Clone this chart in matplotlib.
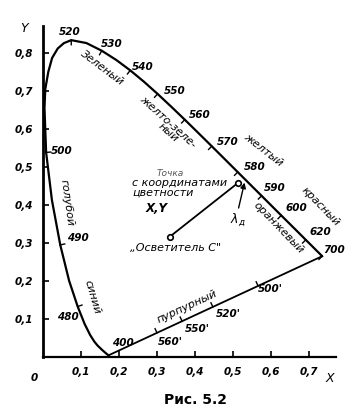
import matplotlib
matplotlib.use("Agg")
import matplotlib.pyplot as plt
import numpy as np

# spectral locus, wavelengths in nm (CIE 1931, a few points near the top)
wl = [400, 420, 430, 440, 450, 460, 465, 470, 475, 480, 485, 490, 495,
      500, 505, 507.5, 510, 512.5, 515, 517.5, 520, 525, 530, 535, 540, 545,
      550, 555, 560, 565, 570, 575, 580, 585, 590, 595, 600, 610, 620, 630,
      640, 650, 700]
lx = [0.1733, 0.1714, 0.1689, 0.1644, 0.1566, 0.1440, 0.1355, 0.1241, 0.1096,
      0.0913, 0.0687, 0.0454, 0.0235, 0.0082, 0.0039, 0.0060, 0.0139, 0.0240,
      0.0389, 0.0550, 0.0743, 0.1142, 0.1547, 0.1929, 0.2296, 0.2658, 0.3016,
      0.3373, 0.3731, 0.4087, 0.4441, 0.4788, 0.5125, 0.5448, 0.5752, 0.6029,
      0.6270, 0.6658, 0.6915, 0.7079, 0.7190, 0.7260, 0.7347]
ly = [0.0048, 0.0051, 0.0069, 0.0109, 0.0177, 0.0297, 0.0399, 0.0578, 0.0868,
      0.1327, 0.2007, 0.2950, 0.4127, 0.5384, 0.6548, 0.7050, 0.7502, 0.7870,
      0.8120, 0.8260, 0.8338, 0.8262, 0.8059, 0.7816, 0.7543, 0.7243, 0.6923,
      0.6589, 0.6245, 0.5896, 0.5547, 0.5202, 0.4866, 0.4544, 0.4242, 0.3965,
      0.3725, 0.3340, 0.3083, 0.2920, 0.2809, 0.2740, 0.2653]

tick_wl = [480, 490, 500, 520, 530, 540, 550, 560, 570, 580, 590, 600, 620, 700]
# label text and position for each marked wavelength
wl_labels = ["400", "480", "490", "500", "520", "530", "540", "550", "560",
             "570", "580", "590", "600", "620", "700"]
wl_lab_x = [0.21, 0.066, 0.092, 0.05, 0.071, 0.18, 0.263, 0.347, 0.413,
            0.487, 0.558, 0.61, 0.668, 0.729, 0.765]
wl_lab_y = [0.037, 0.105, 0.313, 0.542, 0.855, 0.824, 0.763, 0.70, 0.637,
            0.566, 0.50, 0.445, 0.392, 0.329, 0.282]

# line of purples, complementary wavelengths
purple_tick_x = [0.30, 0.366, 0.447, 0.566]
purple_labels = ["560'", "550'", "520'", "500'"]
purple_lab_x = [0.334, 0.405, 0.487, 0.597]
purple_lab_y = [0.040, 0.074, 0.113, 0.179]

illum_c = (0.333, 0.316)
sample = (0.513, 0.458)

xticks = [0.1, 0.2, 0.3, 0.4, 0.5, 0.6, 0.7]
yticks = [0.1, 0.2, 0.3, 0.4, 0.5, 0.6, 0.7, 0.8]

fig = plt.figure(figsize=(3.64, 4.15), dpi=100)
ax = fig.add_axes([43/364, 58/415, 0.77*380/364, 0.87*380/415])
ax.set_xlim(0, 0.77)
ax.set_ylim(0, 0.87)
for s in ["top", "right"]:
    ax.spines[s].set_visible(False)
ax.spines["left"].set_linewidth(2)
ax.spines["bottom"].set_linewidth(1.6)

tf = dict(fontsize=7.5, fontstyle="italic", fontweight="bold")
ax.set_xticks(xticks)
ax.set_xticklabels([f"{v:.1f}".replace(".", ",") for v in xticks], **tf)
ax.set_yticks(yticks)
ax.set_yticklabels([f"{v:.1f}".replace(".", ",") for v in yticks], **tf)
ax.tick_params(direction="in", length=4, width=1.2, pad=7)
ax.text(-0.022, -0.055, "0", ha="center", va="center", **tf)
ax.text(-0.05, 0.865, "Y", ha="center", va="center", fontsize=9, fontstyle="italic")
ax.text(0.755, -0.057, "X", ha="center", va="center", fontsize=9, fontstyle="italic")

# locus and purple line
ax.plot(lx, ly, color="black", lw=1.6, solid_capstyle="round", solid_joinstyle="round")
ax.plot([lx[0], lx[-1]], [ly[0], ly[-1]], color="black", lw=1.3)

# inward ticks on locus
cx, cy = 0.31, 0.32
for w in tick_wl:
    i = wl.index(w)
    j0, j1 = max(i - 1, 0), min(i + 1, len(wl) - 1)
    tx, ty = lx[j1] - lx[j0], ly[j1] - ly[j0]
    n = np.array([-ty, tx]) / np.hypot(tx, ty)
    if np.dot(n, [cx - lx[i], cy - ly[i]]) < 0:
        n = -n
    ax.plot([lx[i], lx[i] + 0.012 * n[0]], [ly[i], ly[i] + 0.012 * n[1]],
            color="black", lw=1)

for t, x, y in zip(wl_labels, wl_lab_x, wl_lab_y):
    ax.text(x, y, t, ha="center", va="center", **tf)

# purple line ticks
slope = (ly[-1] - ly[0]) / (lx[-1] - lx[0])
ang = np.degrees(np.arctan(slope))
for x in purple_tick_x:
    y = ly[0] + slope * (x - lx[0])
    ax.plot([x, x - 0.012 * np.sin(np.radians(ang))],
            [y, y + 0.012 * np.cos(np.radians(ang))], color="black", lw=1)
for t, x, y in zip(purple_labels, purple_lab_x, purple_lab_y):
    ax.text(x, y, t, ha="center", va="center", **tf)

# colour names
cf = dict(fontsize=8, fontstyle="italic", ha="center", va="center")
ax.text(0.155, 0.76, "Зеленый", rotation=-37, **cf)
ax.text(0.33, 0.62, "желто-зеле-", rotation=-42, **cf)
ax.text(0.33, 0.59, "ный", rotation=-42, **cf)
ax.text(0.58, 0.545, "желтый", rotation=-38, **cf)
ax.text(0.73, 0.395, "красный", rotation=-46, **cf)
ax.text(0.62, 0.34, "оранжевый", rotation=-46, **cf)
ax.text(0.063, 0.405, "голубой", rotation=-82, **cf)
ax.text(0.13, 0.158, "синий", rotation=-74, **cf)
ax.text(0.379, 0.132, "пурпурный", rotation=ang, **cf)

# illuminant C and sample point
ax.plot([illum_c[0], sample[0]], [illum_c[1], sample[1]], color="black", lw=1.3)
ax.plot(*illum_c, "o", mfc="white", mec="black", ms=4, mew=1.2)
ax.plot(*sample, "o", mfc="white", mec="black", ms=4, mew=1.2)
ax.text(0.334, 0.484, "Точка", fontsize=6.5, fontstyle="italic", ha="center",
        va="center", color="#555555")
ax.text(0.36, 0.458, "с координатами", **cf)
ax.text(0.316, 0.432, "цветности", **cf)
ax.text(0.30, 0.392, "X,Y", fontsize=8.5, fontstyle="italic", fontweight="bold",
        ha="center", va="center")
ax.text(0.35, 0.287, "„Осветитель С\"", **cf)
ax.annotate("", xy=(0.532, 0.466), xytext=(0.513, 0.385),
            arrowprops=dict(arrowstyle="-|>", color="black", lw=1, mutation_scale=8))
ax.text(0.513, 0.363, "λ$_д$", fontsize=9, fontstyle="italic", ha="center", va="center")

fig.text(0.536, 0.036, "Рис. 5.2", fontsize=10, fontweight="bold", ha="center", va="center")
fig.savefig("out.png", dpi=100)
